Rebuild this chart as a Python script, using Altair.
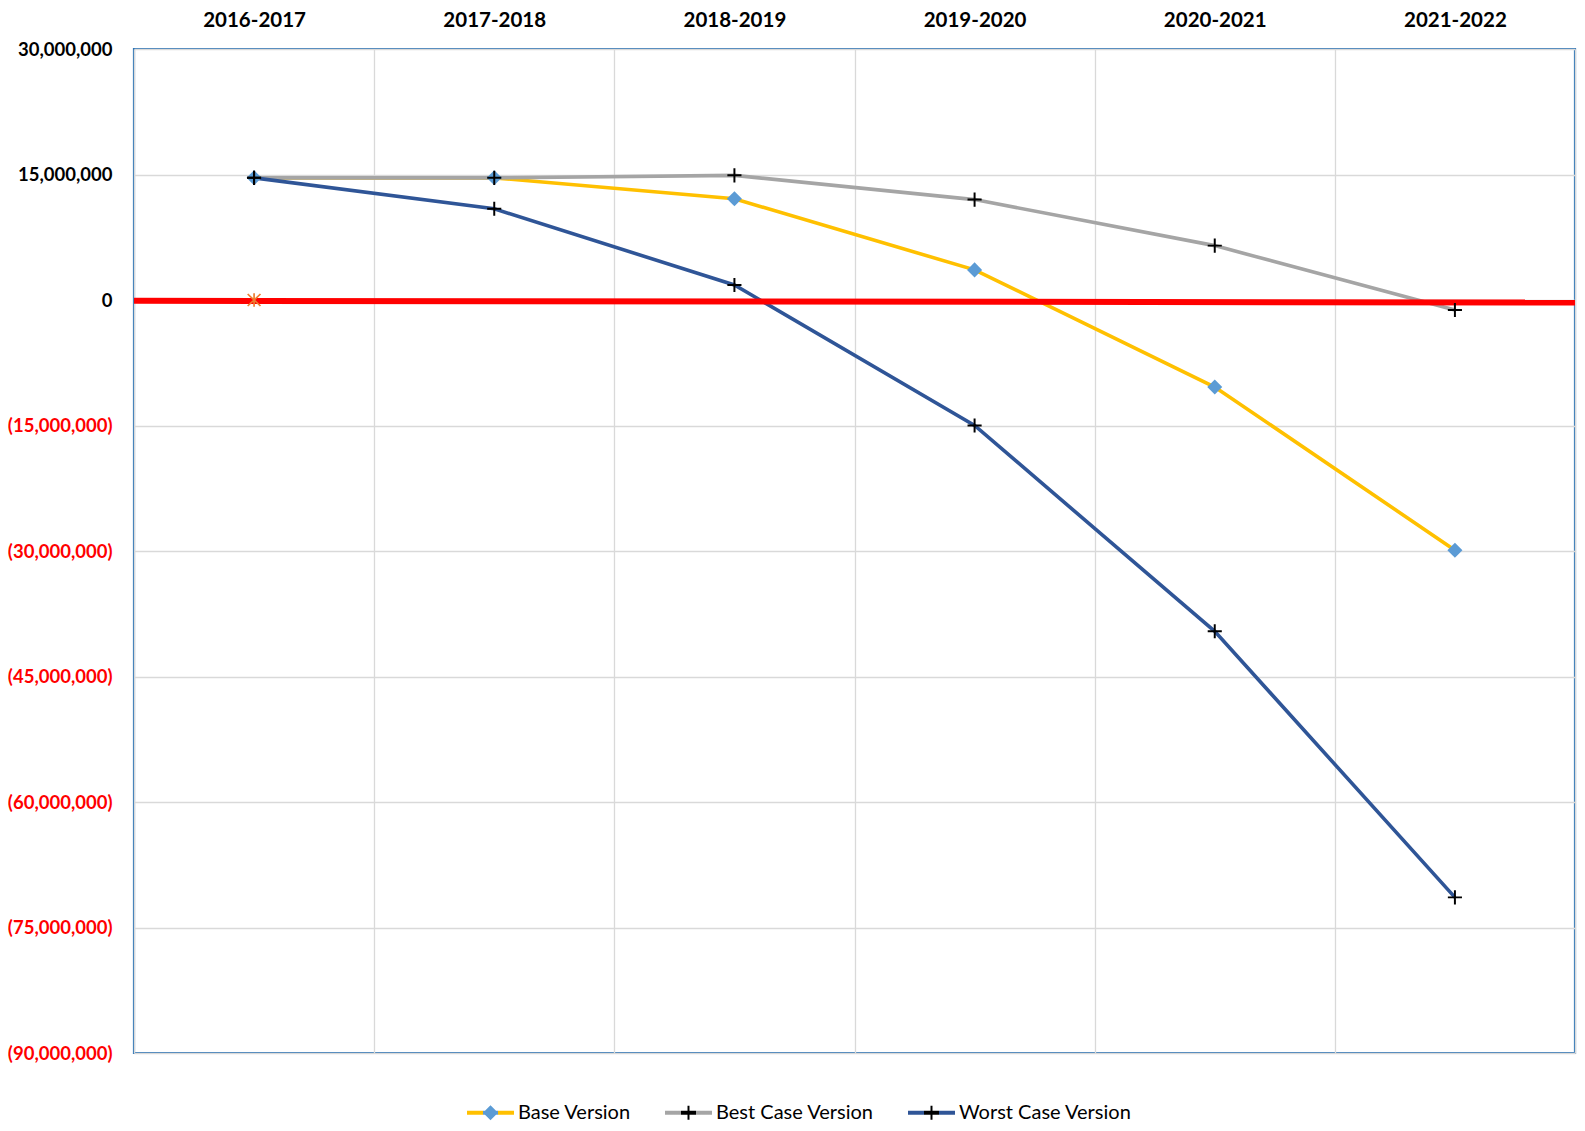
import altair as alt
import pandas as pd

# ---------------- data ----------------
categories = ["2016-2017", "2017-2018", "2018-2019", "2019-2020", "2020-2021", "2021-2022"]
series_names = ["Base Version", "Best Case Version", "Worst Case Version"]
base_version = [14.6e6, 14.6e6, 12.1e6, 3.6e6, -10.4e6, -29.9e6]
best_case_version = [14.6e6, 14.6e6, 14.9e6, 12.0e6, 6.5e6, -1.2e6]
worst_case_version = [14.6e6, 10.9e6, 1.8e6, -15.0e6, -39.6e6, -71.4e6]
zero_line_start = [-0.1e6]
zero_line_end = [-0.3e6]
star_category = ["2016-2017"]
star_value = [0]
y_ticks = [30e6, 15e6, 0, -15e6, -30e6, -45e6, -60e6, -75e6, -90e6]

# ---------------- styling ----------------
W, H = 1441, 1004
line_colors = ["#FFC000", "#A5A5A5", "#2F5597"]
marker_fills = ["#5B9BD5", "#000000", "#000000"]
FONT = "Lato"
SYM = 2209  # 47 px symbol box

d = 0.32
diamond = f"M0,{-d}L{d},0L0,{d}L{-d},0Z"
t, a = 0.042, 0.3
plus = (f"M{-t},{-a}L{t},{-a}L{t},{-t}L{a},{-t}L{a},{t}L{t},{t}L{t},{a}L{-t},{a}"
        f"L{-t},{t}L{-a},{t}L{-a},{-t}L{-t},{-t}Z")
asterisk = "M0,-0.85L0,0.85M-0.8,-0.75L0.8,0.75M-0.8,0.75L0.8,-0.75"

# legend symbols: line (thin bar) + marker, all filled, coloured by a hard-stop gradient
h = 0.08
bar = f"M-1,{-h}L1,{-h}L1,{h}L-1,{h}Z"
sym_base = bar + diamond
sym_plus = bar + plus


def grad_expr(line_c, mark_c, half):
    lo, hi = (1 - half) / 2, (1 + half) / 2
    stops = [(0, line_c), (lo, line_c), (lo, mark_c), (hi, mark_c), (hi, line_c), (1, line_c)]
    s = ",".join(f"{{offset:{o:.4f},color:'{c}'}}" for o, c in stops)
    return f"{{gradient:'linear',x1:0,y1:0,x2:1,y2:0,stops:[{s}]}}"


fill_expr = (
    f"datum.value === '{series_names[0]}' ? {grad_expr(line_colors[0], marker_fills[0], d)} : "
    f"datum.value === '{series_names[1]}' ? {grad_expr(line_colors[1], marker_fills[1], a)} : "
    f"{grad_expr(line_colors[2], marker_fills[2], a)}"
)
shape_expr = f"datum.value === '{series_names[0]}' ? '{sym_base}' : '{sym_plus}'"

rows = []
for name, vals in zip(series_names, [base_version, best_case_version, worst_case_version]):
    for c, v in zip(categories, vals):
        rows.append({"category": c, "value": v, "series": name, "series_m": name})
df = pd.DataFrame(rows)

zero_df = pd.DataFrame({"value": zero_line_start, "value2": zero_line_end})
star_df = pd.DataFrame({"category": star_category, "value": star_value})

x_enc = alt.X(
    "category:N",
    bandPosition=0.5,
    sort=categories,
    scale=alt.Scale(type="band", domain=categories, paddingInner=0, paddingOuter=0),
    axis=alt.Axis(
        orient="top", title=None, domain=False, ticks=False, tickSize=0,
        tickBand="extent", grid=True, gridColor="#D9D9D9", gridWidth=1.3,
        labelFont=FONT, labelFontSize=20.5, labelFontWeight="bold", labelColor="#000000",
        labelPadding=19, labelAngle=0,
    ),
)
y_enc = alt.Y(
    "value:Q",
    scale=alt.Scale(domain=[-90e6, 30e6], nice=False, zero=False),
    axis=alt.Axis(
        title=None, domain=False, ticks=False, tickSize=0, values=y_ticks,
        grid=True, gridColor="#D9D9D9", gridWidth=1.3,
        labelFont=FONT, labelFontSize=18.5, labelFontWeight="bold",
        labelColor=alt.condition("datum.value < 0", alt.value("#FF0000"), alt.value("#000000")),
        labelExpr="datum.value < 0 ? '(' + format(-datum.value, ',') + ')' : format(datum.value, ',')",
        labelPadding=22,
    ),
)

legend = alt.Legend(
    orient="none", legendX=333, legendY=1040, direction="horizontal", columns=3,
    title=None, padding=0, symbolSize=SYM, symbolStrokeWidth=0, labelLimit=400,
    labelFont=FONT, labelFontSize=20, labelColor="#000000", labelOffset=4,
    columnPadding=34,
    symbolType={"expr": shape_expr},
    symbolFillColor={"expr": fill_expr},
    symbolOpacity=1,
)

lines = alt.Chart(df).mark_line(strokeWidth=3.6).encode(
    x=x_enc,
    y=y_enc,
    color=alt.Color(
        "series:N",
        scale=alt.Scale(domain=series_names, range=line_colors),
        legend=legend,
    ),
)

zero_line = alt.Chart(zero_df).mark_rule(color="#FF0000", strokeWidth=6).encode(
    x=alt.value(0), x2=alt.value(W), y=y_enc, y2="value2:Q"
)

star = alt.Chart(star_df).mark_point(
    shape=asterisk, filled=False, stroke="#ED7D31", strokeWidth=1.7, size=256, opacity=1
).encode(x=x_enc, y=y_enc)

markers = alt.Chart(df).mark_point(filled=True, size=SYM, opacity=1, strokeWidth=0).encode(
    x=x_enc,
    y=y_enc,
    shape=alt.Shape("series_m:N", scale=alt.Scale(range=[diamond, plus, plus]), legend=None),
    fill=alt.Fill("series_m:N", scale=alt.Scale(range=marker_fills), legend=None),
)

chart = alt.layer(lines, zero_line, star, markers).properties(
    width=W,
    height=H,
    autosize=alt.AutoSizeParams(type="none"),
    padding={"left": 126, "top": 41, "right": 2, "bottom": 70},
    background="#FFFFFF",
).configure_view(stroke="#2E75B6", strokeWidth=2.2)

chart.save("out.html", embed_options={"renderer": "svg", "actions": False})
